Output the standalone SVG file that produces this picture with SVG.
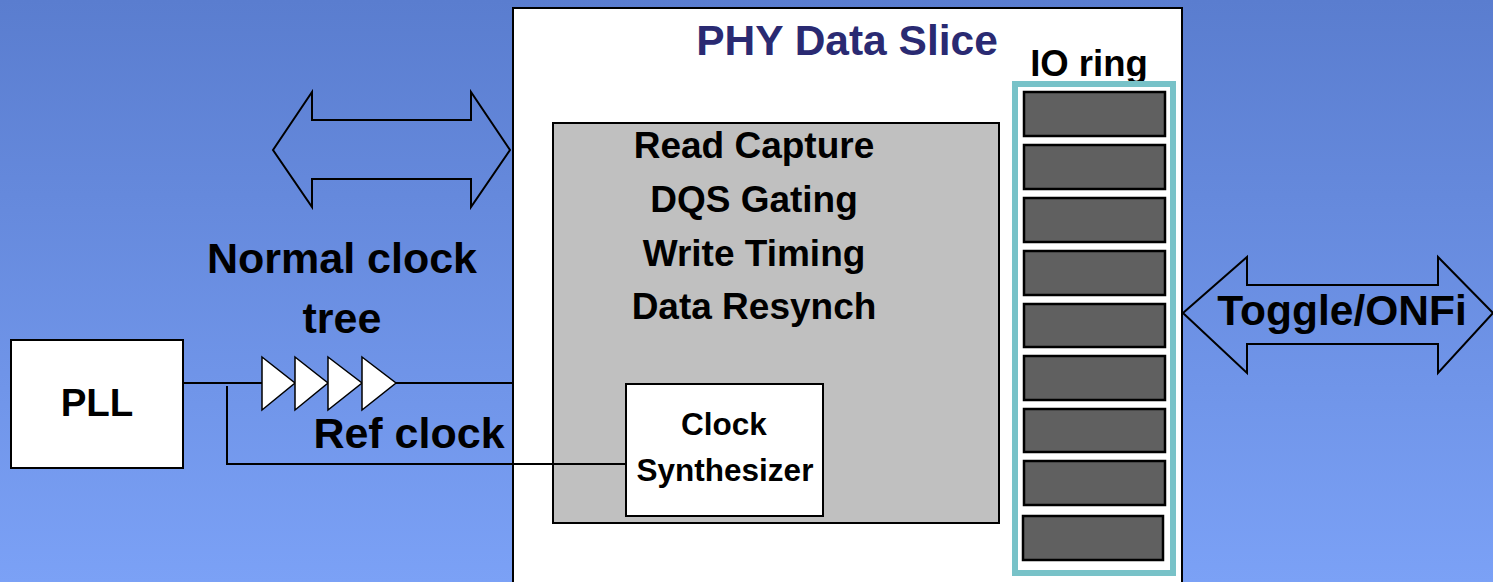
<svg xmlns="http://www.w3.org/2000/svg" width="1493" height="582" viewBox="0 0 1493 582">
  <defs>
    <linearGradient id="bg" x1="0" y1="0" x2="0" y2="1">
      <stop offset="0" stop-color="#5a7dcf"/>
      <stop offset="1" stop-color="#7ba1f6"/>
    </linearGradient>
    <style>
      .t { font-family: "Liberation Sans", Arial, sans-serif; font-weight: bold; fill: #000; text-anchor: middle; }
      .box { stroke: #000; stroke-width: 2; }
      .cell { fill: #606060; stroke: #000; stroke-width: 2.5; }
      .wire { fill: none; stroke: #000; stroke-width: 2; }
      .arrow { fill: none; stroke: #000; stroke-width: 2; stroke-linejoin: miter; }
      .buf { fill: #fff; stroke: #000; stroke-width: 1.5; }
    </style>
  </defs>
  <rect x="0" y="0" width="1493" height="582" fill="url(#bg)"/>

  <g id="phy-data-slice">
    <rect class="box" x="513" y="8" width="669" height="590" fill="#fff"/>
    <text class="t" x="847" y="55" font-size="42.5" style="fill:#2a2a72">PHY Data Slice</text>
  </g>

  <g id="functions">
    <rect class="box" x="553" y="123" width="446" height="400" fill="#c0c0c0"/>
    <text class="t" x="754" y="158" font-size="37">Read Capture</text>
    <text class="t" x="754" y="212" font-size="37">DQS Gating</text>
    <text class="t" x="754" y="266" font-size="37">Write Timing</text>
    <text class="t" x="754" y="319" font-size="37">Data Resynch</text>
  </g>

  <g id="clock-synthesizer">
    <rect class="box" x="626" y="384" width="197" height="132" fill="#fff"/>
    <text class="t" x="724" y="435" font-size="31.5">Clock</text>
    <text class="t" x="725" y="481" font-size="31.5">Synthesizer</text>
  </g>

  <g id="io-ring">
    <text class="t" x="1089" y="76" font-size="36.5">IO ring</text>
    <rect x="1015" y="84" width="158" height="489" fill="#fff" stroke="#78c2c8" stroke-width="6"/>
    <rect class="cell" x="1024" y="92" width="141" height="44"/>
    <rect class="cell" x="1024" y="145" width="141" height="44"/>
    <rect class="cell" x="1024" y="198" width="141" height="44"/>
    <rect class="cell" x="1024" y="251" width="141" height="44"/>
    <rect class="cell" x="1024" y="304" width="141" height="43"/>
    <rect class="cell" x="1024" y="356" width="141" height="44"/>
    <rect class="cell" x="1024" y="409" width="141" height="43"/>
    <rect class="cell" x="1024" y="461" width="141" height="44"/>
    <rect class="cell" x="1023" y="516" width="140" height="44"/>
  </g>

  <g id="pll">
    <rect class="box" x="11" y="340" width="172" height="128" fill="#fff"/>
    <text class="t" x="97" y="416" font-size="38.5">PLL</text>
  </g>

  <g id="clock-tree">
    <polygon class="buf" points="262,357 295,383 262,410"/>
    <polygon class="buf" points="295,357 328,383 295,410"/>
    <polygon class="buf" points="328,357 362,383 328,410"/>
    <polygon class="buf" points="362,357 396,383 362,410"/>
    <text class="t" x="342" y="273" font-size="43">Normal clock</text>
    <text class="t" x="342" y="333" font-size="43">tree</text>
  </g>

  <g id="connectors">
    <path class="wire" d="M183,383 H262"/>
    <path class="wire" d="M396,383 H513"/>
    <path class="wire" d="M227,386 V464 H626"/>
    <text class="t" x="409" y="448" font-size="43">Ref clock</text>
    <path class="arrow" d="M273,150 L312,92 V120 H471 V92 L510,150 L471,207 V179 H312 V207 Z"/>
    <path class="arrow" d="M1183,313 L1247,257 V285 H1438 V257 L1493,313 L1438,373 V344 H1247 V373 Z"/>
    <text class="t" x="1342" y="325" font-size="42.5">Toggle/ONFi</text>
  </g>
</svg>
